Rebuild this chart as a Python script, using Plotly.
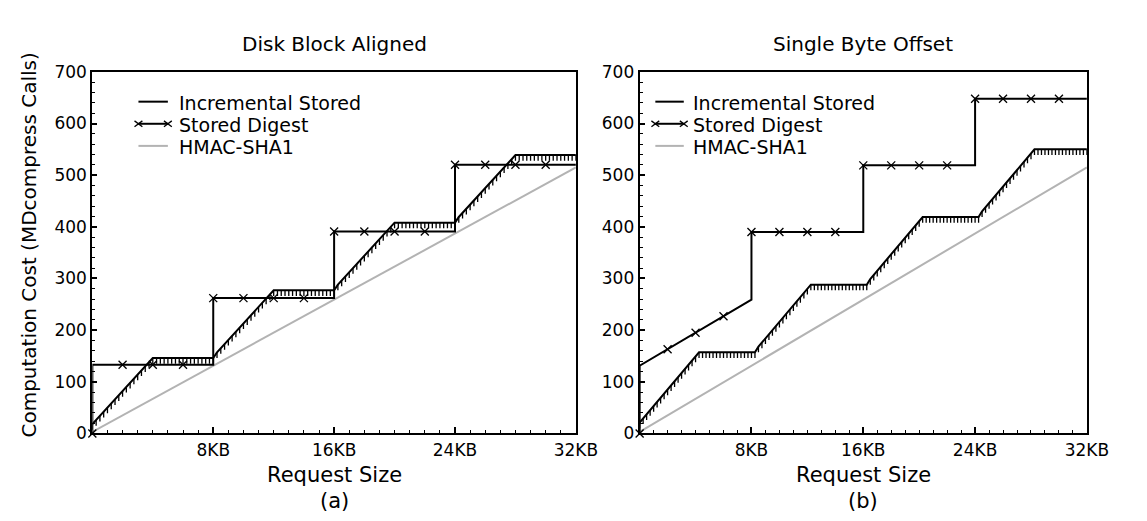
import numpy as np
import plotly.graph_objects as go

W, H = 1147, 521

# ---------------- data ----------------
# Incremental Stored: sample positions every 0.25 KB (x in KB)
inc_x = np.linspace(0, 32, 129)

inc_left = [
    18, 26, 34, 42, 50, 58, 66, 74, 82, 90, 98, 106, 114, 122, 130, 138, 146,
    146, 146, 146, 146, 146, 146, 146, 146, 146, 146, 146, 146, 146, 146, 146, 146,
    157, 165, 173, 181, 189, 197, 205, 213, 221, 229, 237, 245, 253, 261, 269, 277,
    277, 277, 277, 277, 277, 277, 277, 277, 277, 277, 277, 277, 277, 277, 277, 277,
    288, 296, 304, 312, 320, 328, 336, 344, 352, 360, 368, 376, 384, 392, 400, 408,
    408, 408, 408, 408, 408, 408, 408, 408, 408, 408, 408, 408, 408, 408, 408, 408,
    419, 427, 435, 443, 451, 459, 467, 475, 483, 491, 499, 507, 515, 523, 531, 539,
    539, 539, 539, 539, 539, 539, 539, 539, 539, 539, 539, 539, 539, 539, 539, 539,
]

inc_right = [
    21, 29, 37, 45, 53, 61, 69, 77, 85, 93, 101, 109, 117, 125, 133, 141, 149, 157,
    157, 157, 157, 157, 157, 157, 157, 157, 157, 157, 157, 157, 157, 157, 157, 157,
    168, 176, 184, 192, 200, 208, 216, 224, 232, 240, 248, 256, 264, 272, 280, 288,
    288, 288, 288, 288, 288, 288, 288, 288, 288, 288, 288, 288, 288, 288, 288, 288,
    299, 307, 315, 323, 331, 339, 347, 355, 363, 371, 379, 387, 395, 403, 411, 419,
    419, 419, 419, 419, 419, 419, 419, 419, 419, 419, 419, 419, 419, 419, 419, 419,
    430, 438, 446, 454, 462, 470, 478, 486, 494, 502, 510, 518, 526, 534, 542, 550,
    550, 550, 550, 550, 550, 550, 550, 550, 550, 550, 550, 550, 550, 550, 550,
]
inc_tooth = 11  # depth of the small comb teeth below each sample

# Stored Digest: step outline and marker samples
sd_left_x = [0, 0, 8, 8, 16, 16, 24, 24, 32]
sd_left_y = [0, 133, 133, 262, 262, 391, 391, 520, 520]
sd_right_x = [0, 0, 8, 8, 16, 16, 24, 24, 32]
sd_right_y = [0, 131, 259, 390, 390, 519, 519, 648, 648]

sd_mark_x = [0, 2, 4, 6, 8, 10, 12, 14, 16, 18, 20, 22, 24, 26, 28, 30]
sd_mark_left = [0, 133, 133, 133, 262, 262, 262, 262, 391, 391, 391, 391, 520, 520, 520, 520]
sd_mark_right = [0, 163, 195, 227, 390, 390, 390, 390, 519, 519, 519, 519, 648, 648, 648, 648]

# HMAC-SHA1
hm_x = [0, 8, 16, 24, 32]
hm_y = [3, 131, 259, 387, 515]

x_tickvals = [0, 8, 16, 24, 32]
x_ticktext = ["", "8KB", "16KB", "24KB", "32KB"]
titles = ["Disk Block Aligned", "Single Byte Offset"]
sublabels = ["(a)", "(b)"]
legend_names = ["Incremental Stored", "Stored Digest", "HMAC-SHA1"]

# ---------------- layout geometry (pixels) ----------------
FONT = "DejaVu Sans, Liberation Sans, Arial, sans-serif"
panels = [
    dict(x0=86, x1=579, leg_l=133, leg_r=163, leg_t=172),
    dict(x0=644, x1=1100, leg_l=660, leg_r=689, leg_t=696),
]
Y_TOP, Y_BOT = 56, 432


def px(x):
    return x / W


def py(y):
    return 1 - y / H


fig = go.Figure()

data_sets = [
    (inc_left, sd_left_x, sd_left_y, sd_mark_left),
    (inc_right, sd_right_x, sd_right_y, sd_mark_right),
]

for i, (inc_y, sdx, sdy, sdm) in enumerate(data_sets):
    xa = "x" if i == 0 else "x2"
    ya = "y" if i == 0 else "y2"
    fig.add_trace(go.Scatter(
        x=hm_x, y=hm_y, mode="lines", xaxis=xa, yaxis=ya,
        line=dict(color="#b3b3b3", width=2), showlegend=False, hoverinfo="skip"))
    fig.add_trace(go.Scatter(
        x=sdx, y=sdy, mode="lines", xaxis=xa, yaxis=ya,
        line=dict(color="black", width=2), showlegend=False, hoverinfo="skip"))
    fig.add_trace(go.Scatter(
        x=sd_mark_x, y=sdm, mode="markers", xaxis=xa, yaxis=ya, cliponaxis=False,
        marker=dict(symbol="x-thin", size=8, color="black",
                    line=dict(width=1.3, color="black")),
        showlegend=False, hoverinfo="skip"))
    fig.add_trace(go.Scatter(
        x=inc_x, y=inc_y, mode="lines", xaxis=xa, yaxis=ya,
        line=dict(color="black", width=2),
        error_y=dict(type="constant", symmetric=False, value=0,
                     valueminus=inc_tooth, width=0, thickness=1.3, color="black"),
        showlegend=False, hoverinfo="skip"))

axis_common = dict(
    showline=True, linecolor="black", linewidth=2, mirror=True,
    showgrid=False, zeroline=False, ticks="inside", tickcolor="black",
    tickfont=dict(family=FONT, size=17, color="black"),
)

for i, p in enumerate(panels):
    sfx = "" if i == 0 else "2"
    fig.update_layout(**{
        "xaxis" + sfx: dict(
            axis_common, domain=[px(p["x0"]), px(p["x1"])], range=[0, 32],
            tickmode="array", tickvals=x_tickvals, ticktext=x_ticktext,
            ticklen=6, tickwidth=1.5,
            minor=dict(tickmode="linear", tick0=0, dtick=1, ticks="inside",
                       ticklen=3, tickwidth=1, tickcolor="black", showgrid=False),
            anchor="y" + sfx),
        "yaxis" + sfx: dict(
            axis_common, domain=[py(Y_BOT), py(Y_TOP)], range=[0, 700],
            tickmode="linear", tick0=0, dtick=100, ticklen=5, tickwidth=1.5,
            minor=dict(tickmode="linear", tick0=0, dtick=20, ticks="inside",
                       ticklen=3, tickwidth=1, tickcolor="black", showgrid=False),
            anchor="x" + sfx),
    })

annotations = []
shapes = []
rows_line = [87, 110, 133]
rows_text = [88, 111, 134]
colors = ["black", "black", "#b3b3b3"]
for i, p in enumerate(panels):
    cx = (p["x0"] + p["x1"]) / 2
    annotations.append(dict(text=titles[i], x=px(cx), y=py(27), xref="paper", yref="paper",
                            showarrow=False, font=dict(family=FONT, size=20, color="black"),
                            xanchor="center", yanchor="middle"))
    annotations.append(dict(text="Request Size", x=px(cx), y=py(475), xref="paper", yref="paper",
                            showarrow=False, font=dict(family=FONT, size=21, color="black"),
                            xanchor="center", yanchor="middle"))
    annotations.append(dict(text=sublabels[i], x=px(cx), y=py(502), xref="paper", yref="paper",
                            showarrow=False, font=dict(family=FONT, size=21, color="black"),
                            xanchor="center", yanchor="middle"))
    # custom legend (line samples + labels)
    for r in range(3):
        shapes.append(dict(type="line", xref="paper", yref="paper",
                           x0=px(p["leg_l"]), x1=px(p["leg_r"]),
                           y0=py(rows_line[r]), y1=py(rows_line[r]),
                           line=dict(color=colors[r], width=2)))
        annotations.append(dict(text=legend_names[r], x=px(p["leg_t"]), y=py(rows_text[r]),
                                xref="paper", yref="paper", showarrow=False,
                                font=dict(family=FONT, size=19, color="black"),
                                xanchor="left", yanchor="middle"))
    for ex in (p["leg_l"], p["leg_r"]):
        ey = rows_line[1]
        for d in (1, -1):
            shapes.append(dict(type="line", xref="paper", yref="paper",
                               x0=px(ex - 4), x1=px(ex + 4),
                               y0=py(ey - 3 * d), y1=py(ey + 3 * d),
                               line=dict(color="black", width=1.3)))

annotations.append(dict(text="Computation Cost (MDcompress Calls)", x=px(21), y=py(236),
                        xref="paper", yref="paper", showarrow=False, textangle=-90,
                        font=dict(family=FONT, size=20, color="black"),
                        xanchor="center", yanchor="middle"))

fig.update_layout(
    width=W, height=H, autosize=False,
    margin=dict(l=0, r=0, t=0, b=0),
    paper_bgcolor="white", plot_bgcolor="white",
    showlegend=False,
    annotations=annotations, shapes=shapes,
    font=dict(family=FONT, color="black"),
)

fig.write_html("out.html")
